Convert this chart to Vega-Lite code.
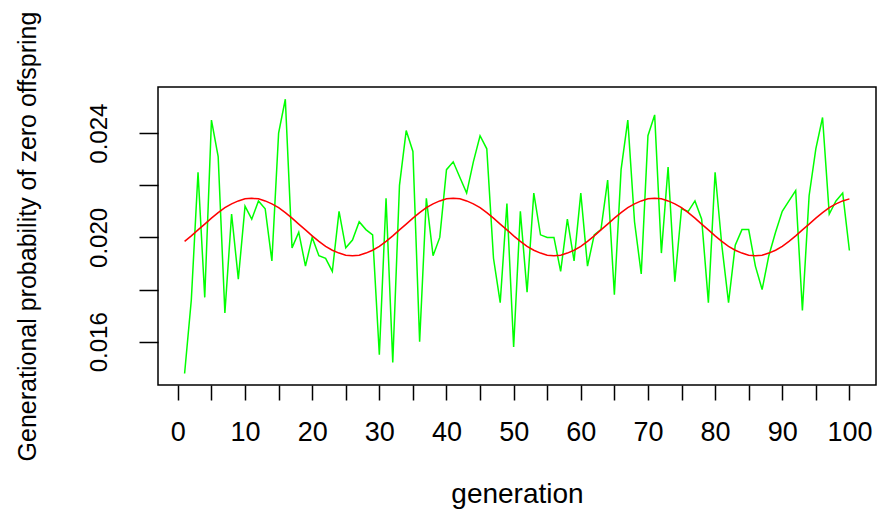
{
"$schema": "https://vega.github.io/schema/vega-lite/v6.json",
"width": 718, "height": 298,
"autosize": {"type": "none"},
"padding": {"left": 158, "top": 87, "right": 6, "bottom": 127},
"background": "white",
"config": {"view": {"stroke": "#000", "strokeWidth": 1.5}, "font": "Liberation Sans"},
"datasets": {
"obs": [
{"generation":1,"p":0.01478},{"generation":2,"p":0.0176},{"generation":3,"p":0.0225},{"generation":4,"p":0.0177},{"generation":5,"p":0.0245},
{"generation":6,"p":0.0231},{"generation":7,"p":0.0171},{"generation":8,"p":0.0209},{"generation":9,"p":0.0184},{"generation":10,"p":0.0212},
{"generation":11,"p":0.0207},{"generation":12,"p":0.0214},{"generation":13,"p":0.0211},{"generation":14,"p":0.0191},{"generation":15,"p":0.0240},
{"generation":16,"p":0.0253},{"generation":17,"p":0.0196},{"generation":18,"p":0.0202},{"generation":19,"p":0.0189},{"generation":20,"p":0.0200},
{"generation":21,"p":0.0193},{"generation":22,"p":0.0192},{"generation":23,"p":0.0187},{"generation":24,"p":0.0210},{"generation":25,"p":0.0196},
{"generation":26,"p":0.0199},{"generation":27,"p":0.0206},{"generation":28,"p":0.0203},{"generation":29,"p":0.0201},{"generation":30,"p":0.0155},
{"generation":31,"p":0.0215},{"generation":32,"p":0.0152},{"generation":33,"p":0.0220},{"generation":34,"p":0.0241},{"generation":35,"p":0.0233},
{"generation":36,"p":0.0160},{"generation":37,"p":0.0215},{"generation":38,"p":0.0193},{"generation":39,"p":0.0200},{"generation":40,"p":0.0226},
{"generation":41,"p":0.0229},{"generation":42,"p":0.0223},{"generation":43,"p":0.0217},{"generation":44,"p":0.0229},{"generation":45,"p":0.0239},
{"generation":46,"p":0.0234},{"generation":47,"p":0.0192},{"generation":48,"p":0.0175},{"generation":49,"p":0.0213},{"generation":50,"p":0.0158},
{"generation":51,"p":0.0210},{"generation":52,"p":0.0179},{"generation":53,"p":0.0217},{"generation":54,"p":0.0201},{"generation":55,"p":0.0200},
{"generation":56,"p":0.0200},{"generation":57,"p":0.0187},{"generation":58,"p":0.0207},{"generation":59,"p":0.0191},{"generation":60,"p":0.0217},
{"generation":61,"p":0.0189},{"generation":62,"p":0.0201},{"generation":63,"p":0.0203},{"generation":64,"p":0.0222},{"generation":65,"p":0.0178},
{"generation":66,"p":0.0226},{"generation":67,"p":0.0245},{"generation":68,"p":0.0206},{"generation":69,"p":0.0186},{"generation":70,"p":0.0239},
{"generation":71,"p":0.0247},{"generation":72,"p":0.0194},{"generation":73,"p":0.0227},{"generation":74,"p":0.0183},{"generation":75,"p":0.0211},
{"generation":76,"p":0.0210},{"generation":77,"p":0.0214},{"generation":78,"p":0.0207},{"generation":79,"p":0.0175},{"generation":80,"p":0.0225},
{"generation":81,"p":0.0197},{"generation":82,"p":0.0175},{"generation":83,"p":0.0197},{"generation":84,"p":0.0203},{"generation":85,"p":0.0203},
{"generation":86,"p":0.0189},{"generation":87,"p":0.0180},{"generation":88,"p":0.0193},{"generation":89,"p":0.0202},{"generation":90,"p":0.0210},
{"generation":91,"p":0.0214},{"generation":92,"p":0.0218},{"generation":93,"p":0.0172},{"generation":94,"p":0.0216},{"generation":95,"p":0.0234},
{"generation":96,"p":0.0246},{"generation":97,"p":0.0209},{"generation":98,"p":0.0214},{"generation":99,"p":0.0217},{"generation":100,"p":0.0195}
],
"fit": [
{"generation":1,"p":0.01985},{"generation":2,"p":0.02006},{"generation":3,"p":0.02029},{"generation":4,"p":0.02051},{"generation":5,"p":0.02074},
{"generation":6,"p":0.02095},{"generation":7,"p":0.02114},{"generation":8,"p":0.02129},{"generation":9,"p":0.0214},{"generation":10,"p":0.02148},
{"generation":11,"p":0.0215},{"generation":12,"p":0.02148},{"generation":13,"p":0.0214},{"generation":14,"p":0.02129},{"generation":15,"p":0.02114},
{"generation":16,"p":0.02095},{"generation":17,"p":0.02074},{"generation":18,"p":0.02051},{"generation":19,"p":0.02029},{"generation":20,"p":0.02006},
{"generation":21,"p":0.01985},{"generation":22,"p":0.01966},{"generation":23,"p":0.01951},{"generation":24,"p":0.0194},{"generation":25,"p":0.01932},
{"generation":26,"p":0.0193},{"generation":27,"p":0.01932},{"generation":28,"p":0.0194},{"generation":29,"p":0.01951},{"generation":30,"p":0.01966},
{"generation":31,"p":0.01985},{"generation":32,"p":0.02006},{"generation":33,"p":0.02029},{"generation":34,"p":0.02051},{"generation":35,"p":0.02074},
{"generation":36,"p":0.02095},{"generation":37,"p":0.02114},{"generation":38,"p":0.02129},{"generation":39,"p":0.0214},{"generation":40,"p":0.02148},
{"generation":41,"p":0.0215},{"generation":42,"p":0.02148},{"generation":43,"p":0.0214},{"generation":44,"p":0.02129},{"generation":45,"p":0.02114},
{"generation":46,"p":0.02095},{"generation":47,"p":0.02074},{"generation":48,"p":0.02051},{"generation":49,"p":0.02029},{"generation":50,"p":0.02006},
{"generation":51,"p":0.01985},{"generation":52,"p":0.01966},{"generation":53,"p":0.01951},{"generation":54,"p":0.0194},{"generation":55,"p":0.01932},
{"generation":56,"p":0.0193},{"generation":57,"p":0.01932},{"generation":58,"p":0.0194},{"generation":59,"p":0.01951},{"generation":60,"p":0.01966},
{"generation":61,"p":0.01985},{"generation":62,"p":0.02006},{"generation":63,"p":0.02029},{"generation":64,"p":0.02051},{"generation":65,"p":0.02074},
{"generation":66,"p":0.02095},{"generation":67,"p":0.02114},{"generation":68,"p":0.02129},{"generation":69,"p":0.0214},{"generation":70,"p":0.02148},
{"generation":71,"p":0.0215},{"generation":72,"p":0.02148},{"generation":73,"p":0.0214},{"generation":74,"p":0.02129},{"generation":75,"p":0.02114},
{"generation":76,"p":0.02095},{"generation":77,"p":0.02074},{"generation":78,"p":0.02051},{"generation":79,"p":0.02029},{"generation":80,"p":0.02006},
{"generation":81,"p":0.01985},{"generation":82,"p":0.01966},{"generation":83,"p":0.01951},{"generation":84,"p":0.0194},{"generation":85,"p":0.01932},
{"generation":86,"p":0.0193},{"generation":87,"p":0.01932},{"generation":88,"p":0.0194},{"generation":89,"p":0.01951},{"generation":90,"p":0.01966},
{"generation":91,"p":0.01985},{"generation":92,"p":0.02006},{"generation":93,"p":0.02029},{"generation":94,"p":0.02051},{"generation":95,"p":0.02074},
{"generation":96,"p":0.02095},{"generation":97,"p":0.02114},{"generation":98,"p":0.02129},{"generation":99,"p":0.0214},{"generation":100,"p":0.02148}
]
},
"encoding": {
"x": {"field": "generation", "type": "quantitative",
 "scale": {"domain": [-2.96, 103.96], "nice": false, "zero": false},
 "axis": {"title": "generation", "values": [0,5,10,15,20,25,30,35,40,45,50,55,60,65,70,75,80,85,90,95,100],
  "format": "d", "labelExpr": "datum.value % 10 == 0 ? datum.label : ''",
  "grid": false, "domain": false, "tickSize": 15, "tickColor": "#000", "tickWidth": 1.5,
  "labelFontSize": 27, "labelColor": "#000", "labelFont": "Liberation Sans", "labelBaseline": "alphabetic", "labelPadding": 40,
  "labelOverlap": false, "labelFlush": false, "labelBound": false,
  "titleFontSize": 28, "titleFontWeight": "normal", "titleColor": "#000", "titleFont": "Liberation Sans",
  "titleBaseline": "alphabetic", "titleY": 117}},
"y": {"field": "p", "type": "quantitative",
 "scale": {"domain": [0.01434, 0.02577], "nice": false, "zero": false},
 "axis": {"title": "Generational probability of zero offspring", "values": [0.016, 0.018, 0.02, 0.022, 0.024],
  "format": ".3f", "labelExpr": "(datum.label == '0.016' || datum.label == '0.020' || datum.label == '0.024') ? datum.label : ''",
  "grid": false, "domain": false, "tickSize": 19, "tickColor": "#000", "tickWidth": 1.5,
  "labelFontSize": 24, "labelColor": "#000", "labelFont": "Liberation Sans", "labelAngle": 270, "labelAlign": "center", "labelBaseline": "alphabetic", "labelPadding": 33,
  "labelOverlap": false, "labelFlush": false, "labelBound": false,
  "titleFontSize": 25, "titleFontWeight": "normal", "titleColor": "#000", "titleFont": "Liberation Sans",
  "titleAngle": 270, "titleBaseline": "alphabetic", "titleX": -123}}
},
"layer": [
 {"data": {"name": "obs"}, "mark": {"type": "line", "color": "#00FF00", "strokeWidth": 1.5}},
 {"data": {"name": "fit"}, "mark": {"type": "line", "color": "#FF0000", "strokeWidth": 1.5}}
]
}
